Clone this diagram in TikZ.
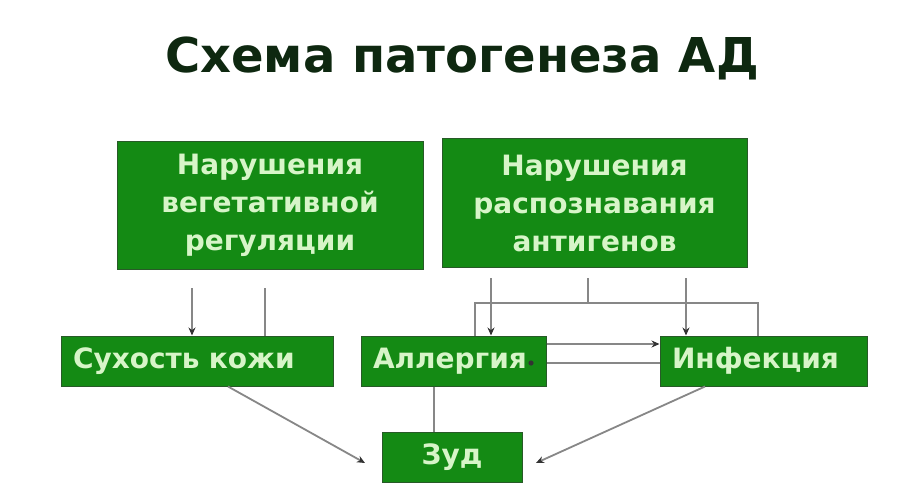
\documentclass[tikz,border=0pt]{standalone}
\usepackage{fontspec}
\setmainfont{DejaVu Sans}
\usetikzlibrary{arrows.meta,calc}
\definecolor{boxgreen}{RGB}{20,138,20}
\definecolor{boxedge}{RGB}{40,90,40}
\definecolor{boxtext}{RGB}{215,245,200}
\definecolor{titlecol}{RGB}{14,40,16}
\definecolor{linegray}{RGB}{135,135,135}
\begin{document}
\begin{tikzpicture}[x=1pt,y=-1pt,
  gbox/.style={fill=boxgreen, draw=boxedge, line width=1pt, text=boxtext,
    font=\bfseries\fontsize{28}{38}\selectfont, inner sep=0pt, align=center},
  lbox/.style={gbox, inner xsep=12pt, align=left},
  conn/.style={draw=linegray, line width=1.8pt},
  arr/.style={conn, -{Stealth[length=8pt,width=7pt,color=black!80]}}]
\useasboundingbox (0,0) rectangle (900,500);
\fill[white] (0,0) rectangle (900,500);

\node[font=\bfseries\fontsize{48}{48}\selectfont, text=titlecol, anchor=base] (title) at (462,73) {Схема патогенеза АД};

\node[gbox, minimum width=306pt, minimum height=127pt] (veg) at (270,205.5) {Нарушения\\вегетативной\\регуляции};
\node[gbox, minimum width=305pt, minimum height=128pt] (ant) at (594.5,203) {Нарушения\\распознавания\\антигенов};

\node[lbox, text width=248pt, minimum height=50pt] (sux) at (197,361) {Сухость кожи};
\node[lbox, text width=161pt, minimum height=50pt] (all) at (453.5,361) {Аллергия};
\node[lbox, text width=183pt, minimum height=50pt] (inf) at (763.5,361) {Инфекция};
\node[gbox, minimum width=140pt, minimum height=50pt] (zud) at (452,457) {Зуд};

\coordinate (v1) at (192,288);
\coordinate (v2) at (265,288);
\draw[arr] (v1) -- (v1 |- sux.north);
\draw[conn] (v2) -- (v2 |- sux.north);

\coordinate (a1) at (491,278);
\coordinate (a2) at (686,278);
\coordinate (a3) at (588,278);
\coordinate (bl) at (475,303);
\coordinate (br) at (758,303);
\draw[arr] (a1) -- (a1 |- all.north);
\draw[arr] (a2) -- (a2 |- inf.north);
\draw[conn] (a3) -- (a3 |- bl);
\draw[conn] (bl |- all.north) -- (bl) -- (br) -- (br |- inf.north);

\coordinate (h1) at (0,344);
\coordinate (h2) at (531,363);
\draw[arr] (all.east |- h1) -- (inf.west |- h1);
\draw[conn] (inf.west |- h2) -- (all.east |- h2);
\fill[black!80] (h2) circle (2.6pt);

\coordinate (z1) at (434,0);
\draw[conn] (all.south -| z1) -- (zud.north -| z1);

\coordinate (s1) at (228,0);
\coordinate (zl) at (365,463);
\draw[arr] (sux.south -| s1) -- (zl);
\coordinate (i1) at (705,0);
\coordinate (zr) at (536,463);
\draw[arr] (inf.south -| i1) -- (zr);
\end{tikzpicture}
\end{document}
